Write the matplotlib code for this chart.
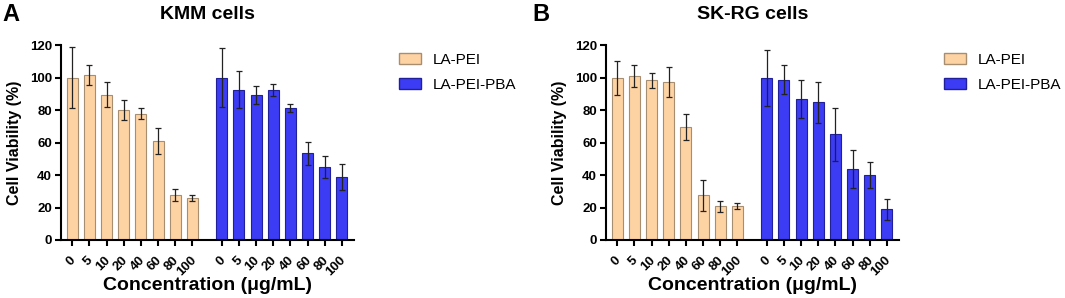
import matplotlib
matplotlib.use("Agg")
import matplotlib.pyplot as plt
import matplotlib.transforms as mtransforms
from matplotlib.patches import Patch
import numpy as np

plt.rcParams['font.family'] = ['Liberation Sans', 'DejaVu Sans']

concentrations = ["0", "5", "10", "20", "40", "60", "80", "100"]
series_names = ["LA-PEI", "LA-PEI-PBA"]

kmm_lapei = [100, 101.5, 89.5, 80, 77.8, 61.2, 27.5, 25.8]
kmm_lapei_err = [19, 6, 7.6, 6, 3.5, 8, 3.6, 1.8]
kmm_pba = [100, 92.5, 89.2, 92.5, 81.2, 53.3, 44.7, 38.8]
kmm_pba_err = [18.3, 11.2, 5.4, 3.6, 2.6, 7, 6.8, 8]

skrg_lapei = [99.8, 101, 98.2, 97, 69.3, 27.4, 20.7, 20.7]
skrg_lapei_err = [10.6, 6.7, 4.5, 9.2, 8, 9.7, 3.2, 1.8]
skrg_pba = [99.8, 98.6, 86.7, 84.7, 65, 43.8, 40.1, 18.9]
skrg_pba_err = [17.4, 8.8, 11.5, 12.5, 16.4, 11.5, 8, 6.3]

orange_face, orange_edge = '#FED3A3', '#A88E70'
blue_face, blue_edge = '#3C3CF5', '#20209A'

fig = plt.figure(figsize=(10.65, 2.98), dpi=100)

n = len(concentrations)
gap = 1.7
pos1 = np.arange(n)
pos2 = np.arange(n) + n - 1 + gap
width = 0.64

def panel(rect, letter, letter_x, title, s1, e1, s2, e2, xlim, leg_xy):
    ax = fig.add_axes(rect)
    for pos, vals, errs, fc, ec in [(pos1, s1, e1, orange_face, orange_edge),
                                     (pos2, s2, e2, blue_face, blue_edge)]:
        ax.bar(pos, vals, width=width, color=fc, edgecolor=ec, linewidth=0.8, zorder=2)
        ax.errorbar(pos, vals, yerr=errs, fmt='none', ecolor='#222222',
                    elinewidth=0.9, capsize=2.5, capthick=0.9, zorder=3)
    ax.set_xlim(*xlim)
    ax.set_ylim(0, 120)
    ax.spines['top'].set_visible(False)
    ax.spines['right'].set_visible(False)
    for s in ['left', 'bottom']:
        ax.spines[s].set_linewidth(1.5)
    ax.tick_params(axis='both', direction='out', length=4.5, width=1.5, pad=2)
    ax.set_yticks(range(0, 121, 20))
    ax.set_xticks(np.concatenate([pos1, pos2]))
    ax.set_xticklabels(concentrations * 2, rotation=45, ha='right', va='top',
                       fontsize=9.5, fontweight='bold')
    offset = mtransforms.ScaledTranslation(6 / 100, -5 / 100, fig.dpi_scale_trans)
    for lab in ax.get_xticklabels():
        lab.set_transform(lab.get_transform() + offset)
    for lab in ax.get_yticklabels():
        lab.set_fontweight('bold')
        lab.set_fontsize(9.5)
    ax.set_ylabel('Cell Viability (%)', fontsize=11.5, fontweight='bold', labelpad=6)
    ax.set_xlabel('Concentration (μg/mL)', fontsize=14, fontweight='bold', labelpad=-1)
    ax.set_title(title, fontsize=14, fontweight='bold', pad=18.5)
    fig.text(letter_x, 0.95, letter, fontsize=17, fontweight='bold',
             ha='left', va='center')
    handles = [Patch(facecolor=orange_face, edgecolor=orange_edge, label=series_names[0]),
               Patch(facecolor=blue_face, edgecolor=blue_edge, label=series_names[1])]
    fig.legend(handles=handles, loc='upper left', bbox_to_anchor=leg_xy,
               frameon=False, fontsize=11, handlelength=1.45, handleheight=0.75,
               labelspacing=0.75, handletextpad=0.8)
    return ax

panel([61 / 1065, 58 / 298, 293 / 1065, 195 / 298], 'A', 2 / 1065, 'KMM cells',
      kmm_lapei, kmm_lapei_err, kmm_pba, kmm_pba_err, (-0.65, 16.4),
      (385 / 1065, 1 - 39 / 298))
panel([606 / 1065, 58 / 298, 293 / 1065, 195 / 298], 'B', 532 / 1065, 'SK-RG cells',
      skrg_lapei, skrg_lapei_err, skrg_pba, skrg_pba_err, (-0.65, 16.4),
      (930 / 1065, 1 - 39 / 298))

fig.savefig('out.png', dpi=100)
